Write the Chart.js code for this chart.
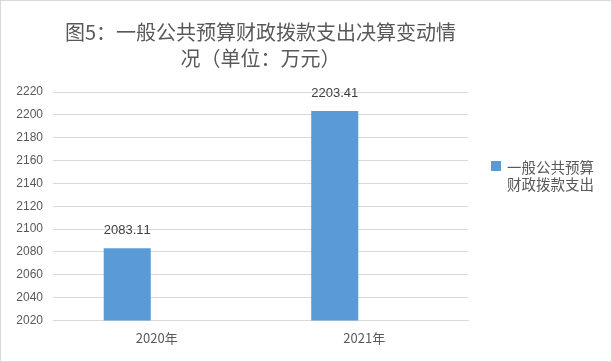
<!DOCTYPE html>
<html>
<head>
<meta charset="utf-8">
<script src="https://cdn.jsdelivr.net/npm/chart.js@4"></script>
<style>
  body { margin: 0; background: #fff; }
  #wrap { width: 610px; height: 360px; border: 1px solid #d9d9d9; position: relative; }
  canvas { text-spacing-trim: space-all; font-kerning: none; }
</style>
</head>
<body>
<div id="wrap"><canvas id="chart"></canvas></div>
<script>
// categories and values
const years = ['2020年', '2021年'];
const spending = [2083.11, 2203.41];
const spacer = [null, null]; // empty second series keeps the bars left of centre, like the source
const seriesName = ['一般公共预算', '财政拨款支出'];
const titleLines = ['图5：一般公共预算财政拨款支出决算变动情', '况（单位：万元）'];

const barColor = '#5b9bd5';
const textColor = '#595959';
const cjkFont = '"Noto Sans CJK SC", "Noto Sans", sans-serif';

// turn off kerning so full-width punctuation keeps its width
const noKerning = {
    id: 'noKerning',
    beforeDraw(chart) {
        chart.ctx.fontKerning = 'none';
    }
};

// value labels above the bars
const valueLabels = {
    id: 'valueLabels',
    afterDatasetsDraw(chart) {
        const ctx = chart.ctx;
        const meta = chart.getDatasetMeta(0);
        ctx.save();
        ctx.font = '13px "Liberation Sans", sans-serif';
        ctx.fillStyle = '#404040';
        ctx.textAlign = 'center';
        ctx.textBaseline = 'middle';
        meta.data.forEach((bar, i) => {
            ctx.fillText(spending[i].toFixed(2), bar.x, bar.y - 18);
        });
        ctx.restore();
    }
};

// legend on the right with the name split over two lines
const sideLegend = {
    id: 'sideLegend',
    afterDraw(chart) {
        const ctx = chart.ctx;
        const ds = chart.data.datasets[0];
        const x = chart.chartArea.right + 23;
        const y = 160;
        ctx.save();
        ctx.fillStyle = ds.backgroundColor;
        ctx.fillRect(x, y, 10, 10);
        ctx.font = '14.5px ' + cjkFont;
        ctx.fillStyle = textColor;
        ctx.textAlign = 'left';
        ctx.textBaseline = 'middle';
        seriesName.forEach((line, i) => {
            ctx.fillText(line, x + 16, y + 6 + i * 17);
        });
        ctx.restore();
    }
};

new Chart(document.getElementById('chart'), {
    type: 'bar',
    data: {
        labels: years,
        datasets: [
            { label: seriesName.join(''), data: spending, backgroundColor: barColor },
            { label: '', data: spacer, backgroundColor: barColor }
        ]
    },
    options: {
        responsive: true,
        maintainAspectRatio: false,
        animation: false,
        categoryPercentage: 0.569,
        barPercentage: 0.797,
        layout: { padding: { left: 0, right: 143, top: 0, bottom: 5 } },
        plugins: {
            legend: { display: false },
            tooltip: { enabled: false },
            title: {
                display: true,
                fullSize: false,
                text: titleLines,
                color: textColor,
                font: { family: cjkFont, size: 20, weight: 'normal', lineHeight: 1.3 },
                padding: { top: 18, bottom: 21 }
            }
        },
        scales: {
            x: {
                grid: { display: false, drawTicks: false },
                border: { display: true, color: '#d9d9d9' },
                ticks: { color: textColor, padding: 10, font: { family: cjkFont, size: 13 } }
            },
            y: {
                min: 2020,
                max: 2220,
                grid: { color: '#d9d9d9', drawTicks: false },
                border: { display: false },
                afterFit: s => { s.width = 52; },
                ticks: {
                    stepSize: 20,
                    padding: 10,
                    color: textColor,
                    font: { family: '"Liberation Sans", sans-serif', size: 12 },
                    callback: v => String(v)
                }
            }
        }
    },
    plugins: [noKerning, valueLabels, sideLegend]
});
</script>
</body>
</html>
